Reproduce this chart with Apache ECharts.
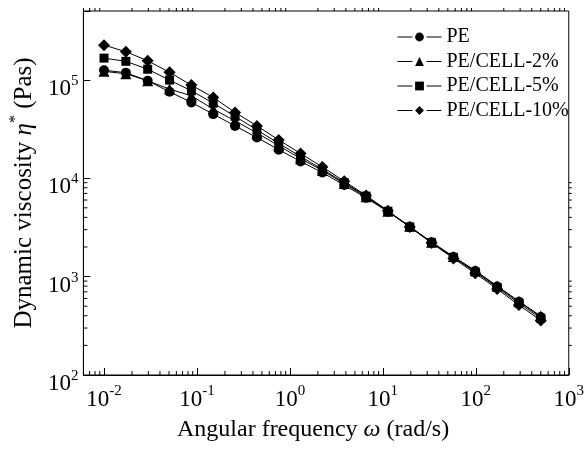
<!DOCTYPE html>
<html><head><meta charset="utf-8">
<script src="https://cdn.jsdelivr.net/npm/echarts@6/dist/echarts.min.js"></script>
<style>html,body{margin:0;padding:0;background:#fff}#c{width:587px;height:449px}</style>
</head><body><div id="c"></div>
<script>
// Angular frequency (rad/s)
const freq = [0.01, 0.01718, 0.02951, 0.0507, 0.0871, 0.1496, 0.257, 0.4415, 0.7579, 1.302, 2.236, 3.841, 6.598, 11.33, 19.47, 33.44, 57.44, 98.68, 169.5, 291.1, 500];
// Dynamic viscosity (Pa s)
const pe     = [125000, 118000, 97700, 75500, 58900, 44800, 34000, 25900, 19500, 14800, 11400, 8510, 6310, 4570, 3200, 2240, 1580, 1140, 794, 556, 389];
const cell2  = [122000, 115000, 97700, 80400, 68700, 50400, 38300, 28800, 21400, 15800, 12000, 8810, 6460, 4620, 3240, 2240, 1600, 1150, 804, 562, 398];
const cell5  = [166000, 154000, 128000, 99300, 77300, 57900, 42500, 30900, 22600, 16600, 12300, 9020, 6580, 4620, 3200, 2210, 1570, 1110, 776, 537, 376];
const cell10 = [225000, 193000, 156000, 119000, 88300, 66200, 46600, 34000, 24500, 17800, 13000, 9330, 6680, 4660, 3200, 2190, 1530, 1080, 750, 513, 359];
const seriesNames = ['PE', 'PE/CELL-2%', 'PE/CELL-5%', 'PE/CELL-10%'];
const seriesValues = [pe, cell2, cell5, cell10];
const seriesSymbols = ['circle', 'triangle', 'rect', 'diamond'];
const seriesSymbolSizes = [10, 11, 9, 12];
// axes
const xMin = 0.006, xMax = 1000;
const yMin = 100, yMax = 500000;
const xTickValues = [0.01, 0.1, 1, 10, 100, 1000];
const xTickExponents = ['-2', '-1', '0', '1', '2', '3'];
const yTickValues = [100, 1000, 10000, 100000];
const yTickExponents = ['2', '3', '4', '5'];
const minorMultipliers = [2, 3, 4, 5, 6, 7, 8, 9];
const xTitle = '{t|Angular frequency }{i|\u03c9}{t| (rad/s)}';
const yTitle = '{t|Dynamic viscosity }{i|\u03b7}{s|*}{t| (Pas)}';

const FONT = 'Liberation Serif';

function labelFor(vals, exps) {
  return function (v) {
    for (let i = 0; i < vals.length; i++) {
      if (Math.abs(Math.log10(v) - Math.log10(vals[i])) < 1e-6) return '{b|10}{s|' + exps[i] + '}';
    }
    return '';
  };
}
const tickRich = {
  b: {fontFamily: FONT, fontSize: 23, color: '#000', lineHeight: 27, verticalAlign: 'bottom'},
  s: {fontFamily: FONT, fontSize: 15, color: '#000', lineHeight: 15, verticalAlign: 'top'}
};

// minor tick data (axis decoration)
const minorData = [];
for (let d = -3; d <= 3; d++) {
  minorMultipliers.forEach(m => {
    const v = m * Math.pow(10, d);
    if (v >= xMin - 1e-12 && v <= xMax) minorData.push([v, yMin, 0]);
    if (v >= yMin && v <= yMax + 1e-6) minorData.push([xMin, v, 1]);
  });
}

const chart = echarts.init(document.getElementById('c'), null, {renderer: 'canvas'});
const series = seriesNames.map((n, k) => ({
  type: 'line',
  name: n,
  data: freq.map((f, i) => [f, seriesValues[k][i]]),
  symbol: seriesSymbols[k],
  symbolSize: seriesSymbolSizes[k],
  showSymbol: true,
  lineStyle: {color: '#000', width: 1},
  itemStyle: {color: '#000', borderWidth: 0},
  emphasis: {disabled: true},
  z: 3
}));
series.push({
  type: 'custom',
  name: 'minor',
  silent: true,
  data: minorData,
  z: 4,
  renderItem: function (params, api) {
    const kind = api.value(2);
    const style = {stroke: '#000', lineWidth: 1};
    if (kind === 0) {
      const v = api.value(0);
      const pb = api.coord([v, yMin]);
      const pt = api.coord([v, yMax]);
      return {type: 'group', children: [
        {type: 'line', shape: {x1: pb[0], y1: pb[1], x2: pb[0], y2: pb[1] - 4}, style},
        {type: 'line', shape: {x1: pt[0], y1: pt[1], x2: pt[0], y2: pt[1] - 3}, style}
      ]};
    } else {
      const v = api.value(1);
      const pl = api.coord([xMin, v]);
      const pr = api.coord([xMax, v]);
      return {type: 'group', children: [
        {type: 'line', shape: {x1: pl[0], y1: pl[1], x2: pl[0] + 4, y2: pl[1]}, style},
        {type: 'line', shape: {x1: pr[0], y1: pr[1], x2: pr[0] + 3, y2: pr[1]}, style}
      ]};
    }
  }
});

chart.setOption({
  animation: false,
  backgroundColor: '#fff',
  grid: {left: 82, right: 15, top: 11, bottom: 74, show: true, borderColor: '#000', borderWidth: 1},
  legend: {
    data: seriesNames,
    orient: 'vertical',
    left: 397,
    top: 27,
    itemWidth: 44,
    itemHeight: 11,
    itemGap: 4.5,
    selectedMode: false,
    padding: 0,
    lineStyle: {type: [15, 14], width: 1, color: '#000'},
    textStyle: {fontFamily: FONT, fontSize: 20, color: '#000'}
  },
  xAxis: {
    type: 'log', logBase: 10, min: xMin, max: xMax, splitNumber: 6,
    axisLine: {show: true, onZero: false, lineStyle: {color: '#000', width: 1}},
    axisTick: {show: true, inside: true, length: 7, lineStyle: {color: '#000', width: 1}},
    splitLine: {show: false},
    axisLabel: {margin: 9, formatter: labelFor(xTickValues, xTickExponents), rich: tickRich, showMinLabel: true},
    name: xTitle, nameLocation: 'middle', nameGap: 43,
    nameTextStyle: {fontFamily: FONT, fontSize: 24, color: '#000', padding: [0, 26, 0, 0],
      rich: {t: {fontFamily: FONT, fontSize: 24, color: '#000'}, i: {fontFamily: FONT, fontSize: 24, fontStyle: 'italic', color: '#000'}}}
  },
  yAxis: {
    type: 'log', logBase: 10, min: yMin, max: yMax, splitNumber: 5,
    axisLine: {show: true, onZero: false, lineStyle: {color: '#000', width: 1}},
    axisTick: {show: true, inside: true, length: 7, lineStyle: {color: '#000', width: 1}},
    splitLine: {show: false},
    axisLabel: {margin: 5, formatter: labelFor(yTickValues, yTickExponents), rich: tickRich, padding: [14, 0, 0, 0]},
    name: yTitle, nameLocation: 'middle', nameGap: 42,
    nameTextStyle: {fontFamily: FONT, fontSize: 25, color: '#000',
      rich: {t: {fontFamily: FONT, fontSize: 25, color: '#000', lineHeight: 29, verticalAlign: 'bottom'},
             i: {fontFamily: FONT, fontSize: 25, fontStyle: 'italic', color: '#000', lineHeight: 29, verticalAlign: 'bottom'},
             s: {fontFamily: FONT, fontSize: 16, color: '#000', lineHeight: 16, verticalAlign: 'top'}}}
  },
  series: series
});
</script>
</body></html>
